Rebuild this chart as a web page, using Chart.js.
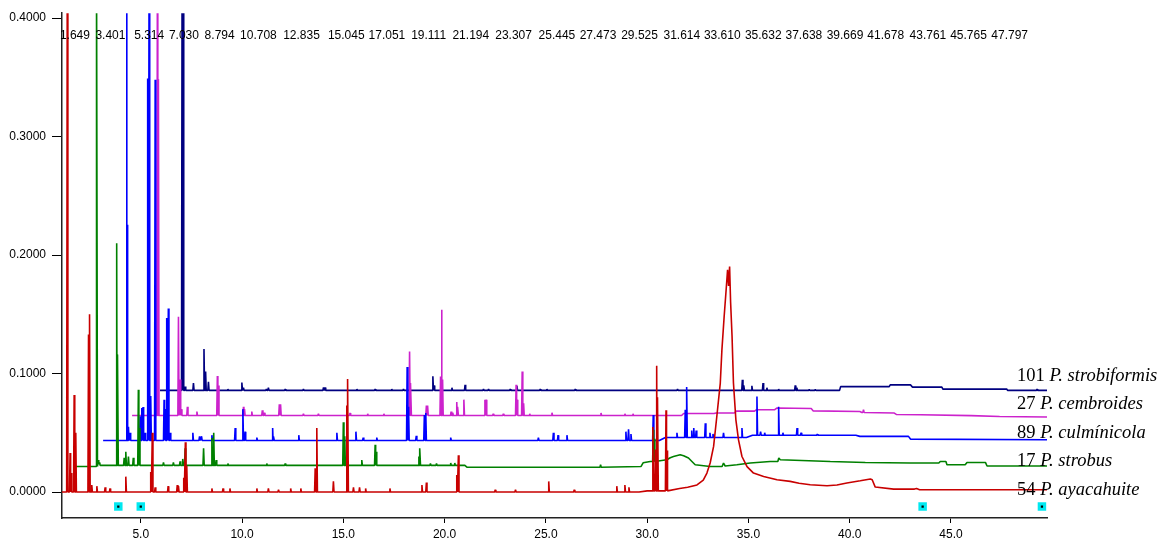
<!DOCTYPE html>
<html>
<head>
<meta charset="utf-8">
<script src="https://cdn.jsdelivr.net/npm/chart.js@4.4.1/dist/chart.umd.min.js"></script>
<style>
  html, body { margin: 0; padding: 0; background: #fff; }
  #wrap { width: 1161px; height: 542px; }
</style>
</head>
<body>
<div id="wrap"><canvas id="c" width="1161" height="542"></canvas></div>
<script>
// Retention-time axis (min) and absorbance axis
const xTickValues = [5, 10, 15, 20, 25, 30, 35, 40, 45];
const yTickValues = [0, 0.1, 0.2, 0.3, 0.4];
const rtLabels = ['1.649','3.401','5.314','7.030','8.794','10.708','12.835','15.045','17.051','19.111','21.194','23.307','25.445','27.473','29.525','31.614','33.610','35.632','37.638','39.669','41.678','43.761','45.765','47.797'];

// Samples, bottom trace first
const sampleIds = ['54', '17', '89', '27', '101'];
const speciesNames = ['P. ayacahuite', 'P. strobus', 'P. culmínicola', 'P. cembroides', 'P. strobiformis'];
const traceColors = ['#c80000', '#008000', '#0000ff', '#cc22cc', '#000080'];

// Baselines: [time, absorbance]
const redBase = [[1.11,0],[29.6,0],[30.0,0.001],[31.0,0.002],[31.6,0.003],[32.0,0.004],[32.46,0.006],[32.77,0.010],[32.95,0.016],[33.11,0.0245],[33.28,0.0385],[33.44,0.064],[33.61,0.092],[33.69,0.120],[33.80,0.148],[33.90,0.171],[33.97,0.1876],[34.02,0.174],[34.07,0.1904],[34.12,0.160],[34.19,0.132],[34.26,0.092],[34.38,0.061],[34.51,0.044],[34.68,0.030],[34.93,0.0215],[35.25,0.016],[35.75,0.0132],[36.41,0.0104],[37.06,0.009],[37.5,0.0075],[38.05,0.0062],[38.88,0.0053],[39.37,0.0059],[39.86,0.0076],[40.52,0.0095],[41.02,0.011],[41.11,0.0104],[41.26,0.0042],[42.17,0.0025],[43.2,0.0025],[43.3,0.003],[43.45,0.002],[49.74,0.002]];
const greenBase = [[1.76,0.0216],[2.8,0.0216],[2.86,0.0235],[3.0,0.0225],[21.0,0.0225],[21.1,0.021],[29.7,0.0216],[29.8,0.0247],[30.15,0.0258],[30.97,0.0273],[31.14,0.029],[31.3,0.030],[31.63,0.0315],[31.8,0.0306],[32.04,0.0287],[32.21,0.0258],[32.37,0.023],[33.11,0.0216],[33.7,0.0216],[33.77,0.0245],[33.85,0.022],[34.43,0.023],[35.09,0.0245],[36.07,0.0258],[36.45,0.0258],[36.5,0.0287],[36.57,0.0273],[39.04,0.0258],[40.77,0.025],[42.99,0.0245],[44.4,0.0245],[44.47,0.0258],[44.75,0.0258],[44.8,0.023],[45.7,0.023],[45.79,0.025],[46.7,0.025],[46.78,0.022],[49.74,0.022]];
const blueBase = [[3.14,0.0435],[30.6,0.0435],[30.9,0.046],[34.9,0.046],[35.2,0.048],[40.3,0.048],[40.5,0.047],[42.9,0.047],[43.0,0.0447],[49.74,0.0442]];
const magentaBase = [[4.57,0.0646],[31.7,0.0646],[31.8,0.0663],[33.3,0.0663],[33.4,0.0667],[34.3,0.0667],[34.4,0.0683],[35.3,0.0683],[35.4,0.0695],[36.3,0.0695],[36.4,0.0709],[38.1,0.0705],[38.2,0.0685],[40.5,0.068],[40.6,0.0672],[42.2,0.0667],[42.3,0.0655],[43.5,0.0652],[46.0,0.0645],[47.4,0.0638],[49.74,0.0633]];
const navyBase = [[5.95,0.0858],[39.5,0.0858],[39.55,0.089],[41.95,0.089],[42.0,0.0905],[43.0,0.0905],[43.1,0.0886],[44.55,0.0886],[44.6,0.0869],[47.75,0.0869],[47.8,0.0858],[49.74,0.0858]];

// Peaks: [retention time, apex absorbance]; apexes above 0.40 run off scale
const redPeaks = [[1.37,0.45],[1.51,0.033],[1.56,0.016],[1.71,0.082],[1.79,0.050],[2.42,0.133],[2.47,0.150],[2.58,0.006],[2.83,0.005],[3.24,0.004],[3.48,0.003],[4.26,0.013],[5.49,0.017],[5.57,0.050],[5.71,0.004],[6.35,0.005],[6.8,0.006],[6.86,0.005],[7.12,0.012],[7.2,0.042],[7.27,0.022],[8.51,0.003],[9.06,0.003],[9.4,0.003],[10.73,0.003],[11.3,0.003],[11.8,0.002],[12.4,0.003],[12.9,0.003],[13.61,0.020],[13.69,0.054],[14.51,0.009],[15.17,0.073],[15.22,0.0955],[15.5,0.004],[15.8,0.004],[16.1,0.003],[17.3,0.003],[18.88,0.006],[19.1,0.008],[20.6,0.0145],[20.68,0.031],[22.5,0.002],[23.5,0.002],[25.14,0.009],[26.4,0.002],[28.5,0.005],[28.9,0.006],[29.1,0.004],[30.28,0.055],[30.4,0.036],[30.47,0.1066],[30.52,0.080],[30.93,0.069],[30.98,0.035]];
const greenPeaks = [[2.83,0.45],[2.9,0.027],[2.95,0.025],[3.81,0.210],[3.86,0.116],[4.18,0.029],[4.26,0.034],[4.39,0.030],[4.63,0.029],[4.88,0.0863],[4.93,0.054],[6.12,0.025],[6.61,0.025],[6.94,0.026],[7.07,0.028],[7.19,0.037],[8.1,0.037],[8.51,0.0456],[8.6,0.050],[8.72,0.027],[9.3,0.024],[11.22,0.024],[12.13,0.024],[15.0,0.059],[15.07,0.047],[15.91,0.027],[16.57,0.040],[16.62,0.034],[18.73,0.030],[18.78,0.037],[19.3,0.024],[19.6,0.024],[20.3,0.0245],[20.5,0.0245],[27.7,0.023],[30.3,0.0526],[30.35,0.045]];
const bluePeaks = [[4.31,0.45],[4.34,0.2256],[4.39,0.055],[4.47,0.050],[4.97,0.064],[5.05,0.071],[5.11,0.0717],[5.21,0.050],[5.34,0.349],[5.41,0.45],[5.49,0.081],[5.71,0.348],[6.15,0.078],[6.2,0.070],[6.28,0.147],[6.36,0.155],[6.45,0.050],[7.57,0.050],[7.9,0.047],[8.0,0.047],[8.51,0.048],[9.66,0.054],[10.04,0.070],[10.15,0.051],[10.73,0.046],[11.51,0.054],[11.56,0.047],[12.8,0.048],[14.68,0.050],[15.62,0.051],[15.98,0.046],[16.65,0.046],[18.15,0.1055],[18.22,0.072],[18.6,0.0475],[19.0,0.065],[19.07,0.0667],[20.3,0.046],[24.63,0.046],[25.37,0.050],[25.6,0.048],[26.04,0.048],[28.95,0.051],[29.08,0.053],[29.2,0.049],[30.3,0.065],[31.47,0.050],[31.88,0.0695],[31.95,0.0886],[32.2,0.052],[32.3,0.054],[32.42,0.052],[32.87,0.058],[33.1,0.050],[33.25,0.049],[33.77,0.050],[34.68,0.054],[35.42,0.0807],[35.6,0.051],[35.8,0.050],[36.49,0.072],[36.7,0.050],[37.4,0.054],[37.6,0.050],[38.4,0.049]];
const magentaPeaks = [[5.82,0.45],[5.87,0.3485],[6.86,0.148],[6.94,0.095],[7.0,0.070],[7.3,0.072],[7.77,0.068],[8.78,0.098],[8.83,0.090],[10.07,0.072],[10.12,0.070],[10.48,0.068],[11.0,0.069],[11.1,0.067],[11.84,0.074],[11.9,0.074],[13.03,0.066],[13.77,0.066],[15.33,0.0667],[16.2,0.066],[17.0,0.066],[18.27,0.1186],[18.33,0.092],[19.1,0.073],[19.16,0.073],[19.8,0.0975],[19.85,0.1538],[19.9,0.095],[20.32,0.068],[20.4,0.067],[20.6,0.076],[20.65,0.072],[20.95,0.078],[21.99,0.078],[22.05,0.078],[22.4,0.066],[22.9,0.066],[23.53,0.0905],[23.58,0.078],[23.83,0.1018],[23.9,0.075],[24.2,0.066],[25.3,0.067],[27.72,0.0667],[28.9,0.066],[29.3,0.066],[40.68,0.0695]];
const navyPeaks = [[6.94,0.0905],[7.04,0.45],[7.09,0.45],[7.19,0.089],[7.6,0.092],[8.12,0.1207],[8.2,0.1018],[8.34,0.093],[8.8,0.087],[9.3,0.087],[9.99,0.0925],[10.07,0.088],[11.2,0.087],[11.3,0.088],[12.13,0.087],[13.03,0.087],[14.02,0.0883],[14.1,0.0883],[15.67,0.087],[16.57,0.087],[17.39,0.087],[17.97,0.087],[19.42,0.0977],[19.48,0.090],[20.36,0.088],[21.01,0.0905],[21.92,0.087],[22.17,0.087],[23.24,0.087],[23.57,0.0897],[24.72,0.087],[25.05,0.087],[26.45,0.087],[31.5,0.087],[34.7,0.0948],[34.77,0.090],[35.17,0.0897],[35.72,0.092],[35.91,0.088],[36.49,0.087],[37.31,0.090],[37.39,0.088],[38.0,0.0865],[38.3,0.0865],[49.25,0.087]];

// Event markers below the baseline: [time, level]
const eventMarks = [[3.89,-0.0122],[5.0,-0.0122],[43.6,-0.0122],[49.49,-0.0122]];

const HALF_WIDTH = 0.03; // half width of a peak foot, in minutes

// Merge a baseline and its peaks into one sorted point list.
function buildTrace(base, peaks) {
  const pts = base.map(([x, y]) => ({ x, y }));
  for (const [t, h] of peaks) {
    let b = base[0][1];
    for (const [bx, by] of base) { if (bx <= t) b = by; else break; }
    pts.push({ x: t - HALF_WIDTH, y: b }, { x: t, y: h }, { x: t + HALF_WIDTH, y: b });
  }
  pts.sort((a, b) => a.x - b.x);
  return pts;
}

const traces = [
  buildTrace(redBase, redPeaks),
  buildTrace(greenBase, greenPeaks),
  buildTrace(blueBase, bluePeaks),
  buildTrace(magentaBase, magentaPeaks),
  buildTrace(navyBase, navyPeaks)
];

const datasets = [
  {
    data: eventMarks.map(([x, y]) => ({ x, y })),
    showLine: false, pointStyle: 'rect', pointRadius: 1.6,
    pointBackgroundColor: '#000', pointBorderWidth: 0, borderWidth: 0
  },
  {
    data: eventMarks.map(([x, y]) => ({ x, y })),
    showLine: false, pointStyle: 'rect', pointRadius: 6,
    pointBackgroundColor: '#00e8f0', pointBorderWidth: 0, borderWidth: 0
  }
].concat(traces.map((pts, i) => ({
  data: pts,
  borderColor: traceColors[i],
  borderWidth: 1.6,
  borderJoinStyle: 'bevel',
  borderCapStyle: 'butt',
  pointRadius: 0,
  tension: 0,
  fill: false,
  clip: 0
})));

// Retention-time labels along the top and sample names at the right.
const annotations = {
  id: 'annotations',
  afterDatasetsDraw(chart) {
    const { ctx, chartArea, scales } = chart;
    const xs = scales.x, ys = scales.y;
    ctx.save();
    ctx.fillStyle = '#000';
    ctx.font = '12px "Liberation Sans", Arial, sans-serif';
    ctx.textAlign = 'center';
    ctx.textBaseline = 'middle';
    for (const lbl of rtLabels) {
      ctx.fillText(lbl, xs.getPixelForValue(parseFloat(lbl)) + 2, 36);
    }
    ctx.textAlign = 'left';
    const left = chartArea.right - 30;
    const y0 = ys.getPixelForValue(0) - 2;
    for (let i = 0; i < sampleIds.length; i++) {
      const y = y0 - i * 28.5;
      ctx.font = '18.5px "Liberation Serif", "Times New Roman", serif';
      const idText = sampleIds[i] + ' ';
      ctx.fillText(idText, left, y);
      const w = ctx.measureText(idText).width;
      ctx.font = 'italic 18.5px "Liberation Serif", "Times New Roman", serif';
      ctx.fillText(speciesNames[i], left + w, y);
    }
    ctx.restore();
  }
};

new Chart(document.getElementById('c'), {
  type: 'line',
  data: { datasets },
  options: {
    responsive: false,
    animation: false,
    devicePixelRatio: 1,
    layout: { padding: { top: 13, right: 114, bottom: 0, left: 0 } },
    plugins: { legend: { display: false }, tooltip: { enabled: false } },
    scales: {
      x: {
        type: 'linear',
        min: 1.11,
        max: 49.74,
        afterFit: (s) => { s.height = 24; },
        afterBuildTicks: (s) => { s.ticks = xTickValues.map(v => ({ value: v })); },
        grid: { drawOnChartArea: false, drawTicks: true, tickLength: 5, color: '#000', lineWidth: 1 },
        border: { display: true, color: '#222', width: 1.5 },
        ticks: {
          color: '#000', padding: 4, maxRotation: 0, autoSkip: false,
          font: { family: '"Liberation Sans", Arial, sans-serif', size: 12 },
          callback: (v) => Number(v).toFixed(1)
        }
      },
      y: {
        type: 'linear',
        min: -0.0219,
        max: 0.4042,
        afterFit: (s) => { s.width = 62; },
        afterBuildTicks: (s) => { s.ticks = yTickValues.map(v => ({ value: v })); },
        grid: { drawOnChartArea: false, drawTicks: true, tickLength: 10, color: '#000', lineWidth: 1 },
        border: { display: true, color: '#222', width: 1.5 },
        ticks: {
          color: '#000', padding: 6, autoSkip: false,
          font: { family: '"Liberation Sans", Arial, sans-serif', size: 12 },
          callback: (v) => Number(v).toFixed(4)
        }
      }
    }
  },
  plugins: [annotations]
});
</script>
</body>
</html>
